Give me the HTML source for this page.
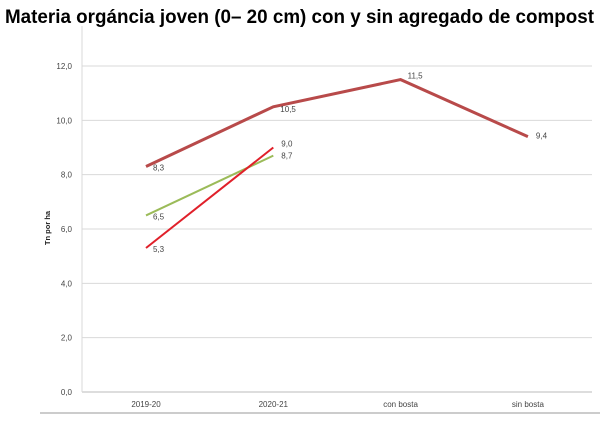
<!DOCTYPE html>
<html><head><meta charset="utf-8"><style>
body{margin:0;background:#fff;width:600px;height:418px;overflow:hidden;font-family:"Liberation Sans",Arial,sans-serif}
</style></head><body>
<svg width="600" height="418">
<text x="5" y="23" font-size="19" font-weight="bold" fill="#000" textLength="589" lengthAdjust="spacingAndGlyphs">Materia orgáncia joven (0– 20 cm) con y sin agregado de compost</text>
<g id="grid"></g>
<g id="series"></g>
<text transform="translate(50,228) rotate(-90)" text-anchor="middle" font-size="7.5" font-weight="bold" fill="#222">Tn por ha</text>
<line x1="40" y1="413" x2="600" y2="413" stroke="#bbb" stroke-width="1.5"/>
</svg>
<script>
const categories=["2019-20","2020-21","con bosta","sin bosta"];
const yTicks=[0,2,4,6,8,10,12];
const seriesDark=[8.3,10.5,11.5,9.4];
const seriesRed=[5.3,9.0];
const seriesGreen=[6.5,8.7];
const NS="http://www.w3.org/2000/svg";
const x0=82,x1=592,yBase=392,yTop=66;
function xs(i){return 146+i*127.3;}
function ys(v){return yBase-(v/12)*(yBase-yTop);}
function mk(t,a,p){const e=document.createElementNS(NS,t);for(const k in a)e.setAttribute(k,a[k]);p.appendChild(e);return e;}
const g=document.getElementById('grid'),s=document.getElementById('series');
yTicks.forEach(v=>{
 const l=mk('line',{x1:x0,x2:x1,y1:ys(v),y2:ys(v),stroke:v===0?'#bbb':'#d9d9d9','stroke-width':1},g);
 
 
 const t=mk('text',{x:72,y:ys(v)+3,'text-anchor':'end','font-size':8,fill:'#444'},g);
 t.textContent=v.toFixed(1).replace('.',',');
 
 
});
mk('line',{x1:x0,x2:x0,y1:yTop-40,y2:yBase,stroke:'#d9d9d9'},g);
categories.forEach((c,i)=>{
 const t=mk('text',{x:xs(i),y:407,'text-anchor':'middle','font-size':8,fill:'#444'},g);
 t.textContent=c;
 
 
});
function draw(vals,color,w,name,offs){
 const pts=vals.map((v,i)=>xs(i)+','+ys(v)).join(' ');
 const p=mk('polyline',{points:pts,fill:'none',stroke:color,'stroke-width':w},s);
 
 
 vals.forEach((v,i)=>{
  const o=offs[i];
  const t=mk('text',{x:xs(i)+o[0],y:ys(v)+o[1],'font-size':8,fill:'#444'},s);
  t.textContent=v.toFixed(1).replace('.',',');
  
  
 });
}
draw(seriesDark,'#b84a4a',3,'series-dark-red',[[7,4],[7,5],[7,-1],[8,2]]);
draw(seriesGreen,'#9bbb59',2,'series-green',[[7,4],[8,3]]);
draw(seriesRed,'#e0202a',2,'series-red',[[7,4],[8,-1]]);
</script>
</body></html>
